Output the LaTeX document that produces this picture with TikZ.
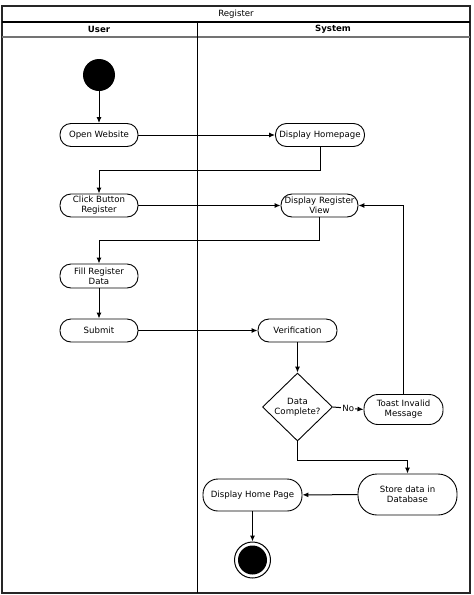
\documentclass[tikz,border=0pt]{standalone}
\usepackage{fontspec}
\setmainfont{DejaVu Sans}
\usetikzlibrary{arrows.meta,shapes.geometric}
\begin{document}
\begin{tikzpicture}[x=1pt,y=-1pt,
  txt/.style={font=\fontsize{8.6}{9.8}\selectfont},
  act/.style={draw, line width=0.9pt, rounded corners=11pt, minimum height=23pt, align=center, txt, inner xsep=0pt, inner ysep=1pt},
  flow/.style={line width=1pt, -{Latex[length=6pt,width=5pt]}},
  frame/.style={line width=1.5pt, draw=black!85}
]
\useasboundingbox (0,0) rectangle (474,595);
% swimlane frame
\draw[frame] (2,6) rectangle (470,593);
\draw[line width=1.1pt] (2,22) -- (470,22);
\draw[line width=1.1pt, draw=black!55] (2,37) -- (470,37);
\draw[line width=1pt] (197,22) -- (197,593);
\node[txt] (title) at (236,14) {Register};
\node[txt, font=\fontsize{8.6}{9.8}\selectfont\bfseries] (user) at (99,29.5) {User};
\node[txt, font=\fontsize{8.6}{9.8}\selectfont\bfseries] (system) at (333,29.5) {System};

% nodes
\node[circle, fill=black, minimum size=32pt, inner sep=0pt] (start) at (99,75) {};
\node[act, minimum width=78pt] (open) at (99,135) {Open Website};
\node[act, minimum width=89pt] (home) at (320,135) {Display Homepage};
\node[act, minimum width=78pt] (click) at (99,205.5) {Click Button\\Register};
\node[act, minimum width=77pt] (regview) at (319.5,205.5) {Display Register\\View};
\node[act, minimum width=78pt, minimum height=24pt] (fill) at (99,276) {Fill Register\\Data};
\node[act, minimum width=78pt] (submit) at (99,330.5) {Submit};
\node[act, minimum width=79pt] (verif) at (297.5,330.5) {Verification};
\node[diamond, draw, line width=0.9pt, minimum width=70pt, minimum height=68pt, inner sep=0pt, align=center, txt] (dec) at (297.5,407) {Data\\Complete?};
\node[act, minimum width=79pt, minimum height=30pt, rounded corners=14pt] (toast) at (403.5,409.5) {Toast Invalid\\Message};
\node[act, minimum width=99pt, minimum height=41pt, rounded corners=19pt] (store) at (407.5,494.5) {Store data in\\Database};
\node[act, minimum width=99pt, minimum height=32pt, rounded corners=15pt] (disphp) at (252.5,495) {Display Home Page};
\node[circle, draw, line width=1pt, minimum size=36pt, inner sep=0pt] (end) at (252.5,560) {};
\node[circle, fill=black, minimum size=29pt, inner sep=0pt] (endin) at (end.center) {};

% connectors
\draw[flow] (start) -- (open);
\draw[flow] (open) -- (home);
\draw[flow] (home.south) -- ++(0,24) -| (click.north);
\draw[flow] (click) -- (regview);
\draw[flow] (toast.north) -- (toast.north |- regview.east) -- (regview.east);
\draw[flow] (regview.south) -- ++(0,23) -| (fill.north);
\draw[flow] (fill) -- (submit);
\draw[flow] (submit) -- (verif);
\draw[flow] (verif) -- (dec.north);
\draw[flow] (dec.east) -- node[txt, fill=white, inner sep=1pt] (no) {No} (toast.west);
\draw[flow] (dec.south) -- ++(0,19) -| (store.north);
\draw[flow] (store) -- (disphp);
\draw[flow] (disphp) -- (end);
\end{tikzpicture}
\end{document}
